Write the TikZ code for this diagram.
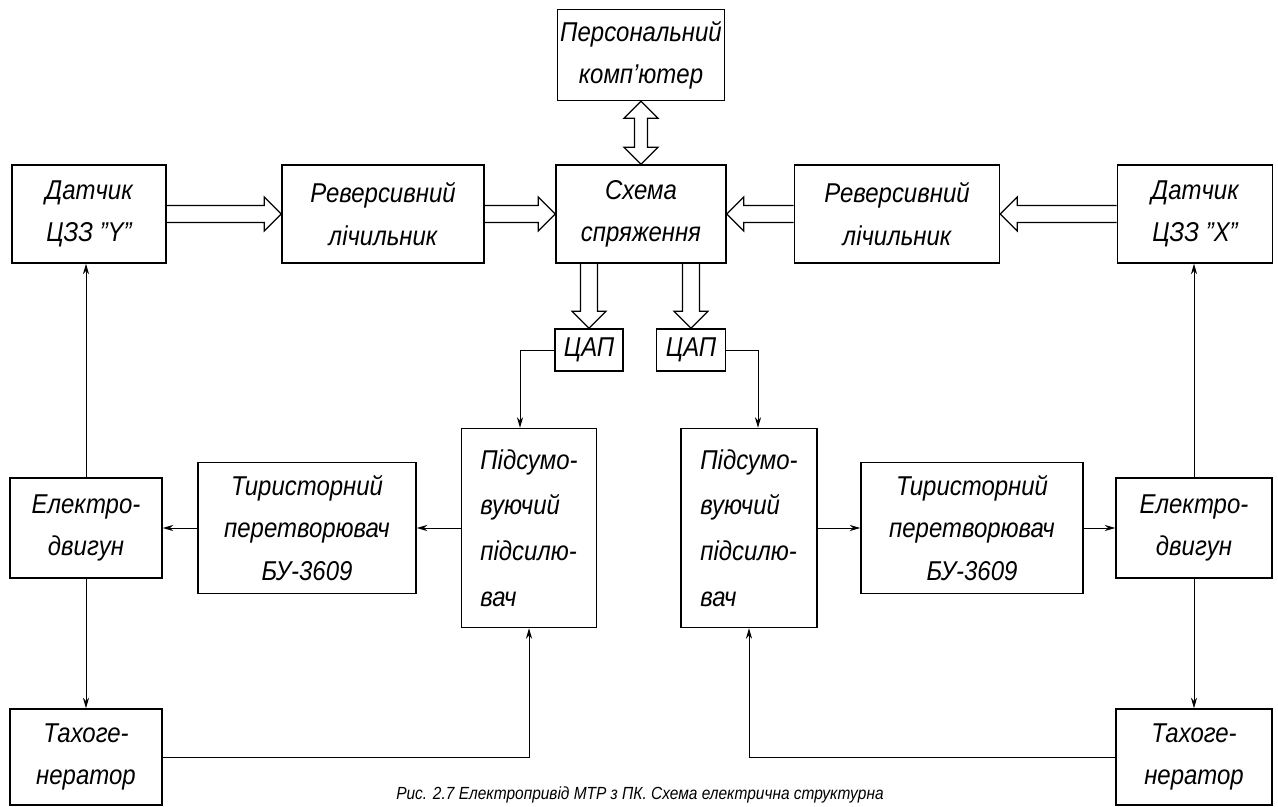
\documentclass[tikz,border=0pt]{standalone}
\usepackage{fontspec}
\setmainfont{Liberation Sans}[FakeStretch=0.88]
\usetikzlibrary{calc, arrows.meta}

\tikzset{
  block/.style={rectangle, draw, line width=0.9pt, align=center, inner sep=0pt,
    font=\itshape\fontsize{15.5}{24}\selectfont},
  wh/.style 2 args={minimum width=#1*0.02cm, minimum height=#2*0.02cm},
  bus/.style={line width=0.7pt},
  link/.style={line width=0.5pt, -{Stealth[length=6pt, width=3.5pt]}}
}

% hollow bus arrow from #1 to #2
\newcommand{\busarrow}[2]{%
  \coordinate (bb) at ($(#2)!0.34cm!(#1)$);
  \draw[bus] ($(#1)!0.17cm!90:(#2)$) -- ($(bb)!0.17cm!90:(#2)$) -- ($(bb)!0.34cm!90:(#2)$)
    -- (#2) -- ($(bb)!0.34cm!-90:(#2)$) -- ($(bb)!0.17cm!-90:(#2)$) -- ($(#1)!0.17cm!-90:(#2)$);}
% hollow bus arrow with two heads
\newcommand{\busboth}[2]{%
  \coordinate (ba) at ($(#1)!0.34cm!(#2)$);
  \coordinate (bb) at ($(#2)!0.34cm!(#1)$);
  \draw[bus] (#1) -- ($(ba)!0.34cm!90:(#2)$) -- ($(ba)!0.13cm!90:(#2)$) -- ($(bb)!0.13cm!90:(#2)$)
    -- ($(bb)!0.34cm!90:(#2)$) -- (#2) -- ($(bb)!0.34cm!-90:(#2)$) -- ($(bb)!0.13cm!-90:(#2)$)
    -- ($(ba)!0.13cm!-90:(#2)$) -- ($(ba)!0.34cm!-90:(#2)$) -- cycle;}

\begin{document}
\begin{tikzpicture}[x=0.02cm, y=-0.02cm]
    \useasboundingbox (0,0) rectangle (1278,807);
    % Nodes
    \node (pc) [block, wh={167}{91}] at (641,55) {Персональний\\ комп'ютер};
    \node (dy) [block, wh={154}{98}] at (89,214) {Датчик\\ ЦЗЗ "Y"};
    \node (rvy) [block, wh={202}{98}] at (383,214) {Реверсивний\\ лічильник};
    \node (sh) [block, wh={170}{98}] at (641,214) {Схема\\ спряження};
    \node (rvx) [block, wh={205}{98}] at (897,214) {Реверсивний\\ лічильник};
    \node (dx) [block, wh={155}{98}] at (1195,214) {Датчик\\ ЦЗЗ "X"};
    \node (dacl) [block, wh={68}{42}] at (589,350) {ЦАП};
    \node (dacr) [block, wh={69}{42}] at (691,350) {ЦАП};
    \node (suml) [block, wh={135}{199}, align=left, font=\itshape\fontsize{15.5}{26}\selectfont] at (529,528) {Підсумо-\\ вуючий\\ підсилю-\\ вач};
    \node (sumr) [block, wh={136}{199}, align=left, font=\itshape\fontsize{15.5}{26}\selectfont] at (749,528) {Підсумо-\\ вуючий\\ підсилю-\\ вач};
    \node (tyl) [block, wh={218}{131}] at (307,528) {Тиристорний\\ перетворювач\\ БУ-3609};
    \node (tyr) [block, wh={222}{131}] at (972,528) {Тиристорний\\ перетворювач\\ БУ-3609};
    \node (ml) [block, wh={152}{100}] at (86,528) {Електро-\\ двигун};
    \node (mr) [block, wh={156}{100}] at (1194,528) {Електро-\\ двигун};
    \node (tgl) [block, wh={152}{96}] at (86,757) {Тахоге-\\ нератор};
    \node (tgr) [block, wh={156}{96}] at (1194,757) {Тахоге-\\ нератор};
    \node (cap) [font=\itshape\fontsize{10}{12}\selectfont] at (640,795) {Рис. 2.7 Електропривід МТР з ПК. Схема електрична структурна};
    % Bus arrows
    \busboth{pc.south}{sh.north}
    \busarrow{dy.east}{rvy.west}
    \busarrow{rvy.east}{sh.west}
    \busarrow{rvx.west}{sh.east}
    \busarrow{dx.west}{rvx.east}
    \coordinate (shl) at (dacl.north |- sh.south);
    \coordinate (shr) at (dacr.north |- sh.south);
    \busarrow{shl}{dacl.north}
    \busarrow{shr}{dacr.north}
    % Arrows
    \draw[link] (dacl.west) -| ([xshift=-0.18cm]suml.north);
    \draw[link] (dacr.east) -| ([xshift=0.18cm]sumr.north);
    \draw[link] (suml.west) -- (tyl.east);
    \draw[link] (tyl.west) -- (ml.east);
    \draw[link] (sumr.east) -- (tyr.west);
    \draw[link] (tyr.east) -- (mr.west);
    \draw[link] (ml.north) -- (ml.north |- dy.south);
    \draw[link] (mr.north) -- (mr.north |- dx.south);
    \draw[link] (ml.south) -- (tgl.north);
    \draw[link] (mr.south) -- (tgr.north);
    \draw[link] (tgl.east) -| (suml.south);
    \draw[link] (tgr.west) -| (sumr.south);
\end{tikzpicture}
\end{document}
